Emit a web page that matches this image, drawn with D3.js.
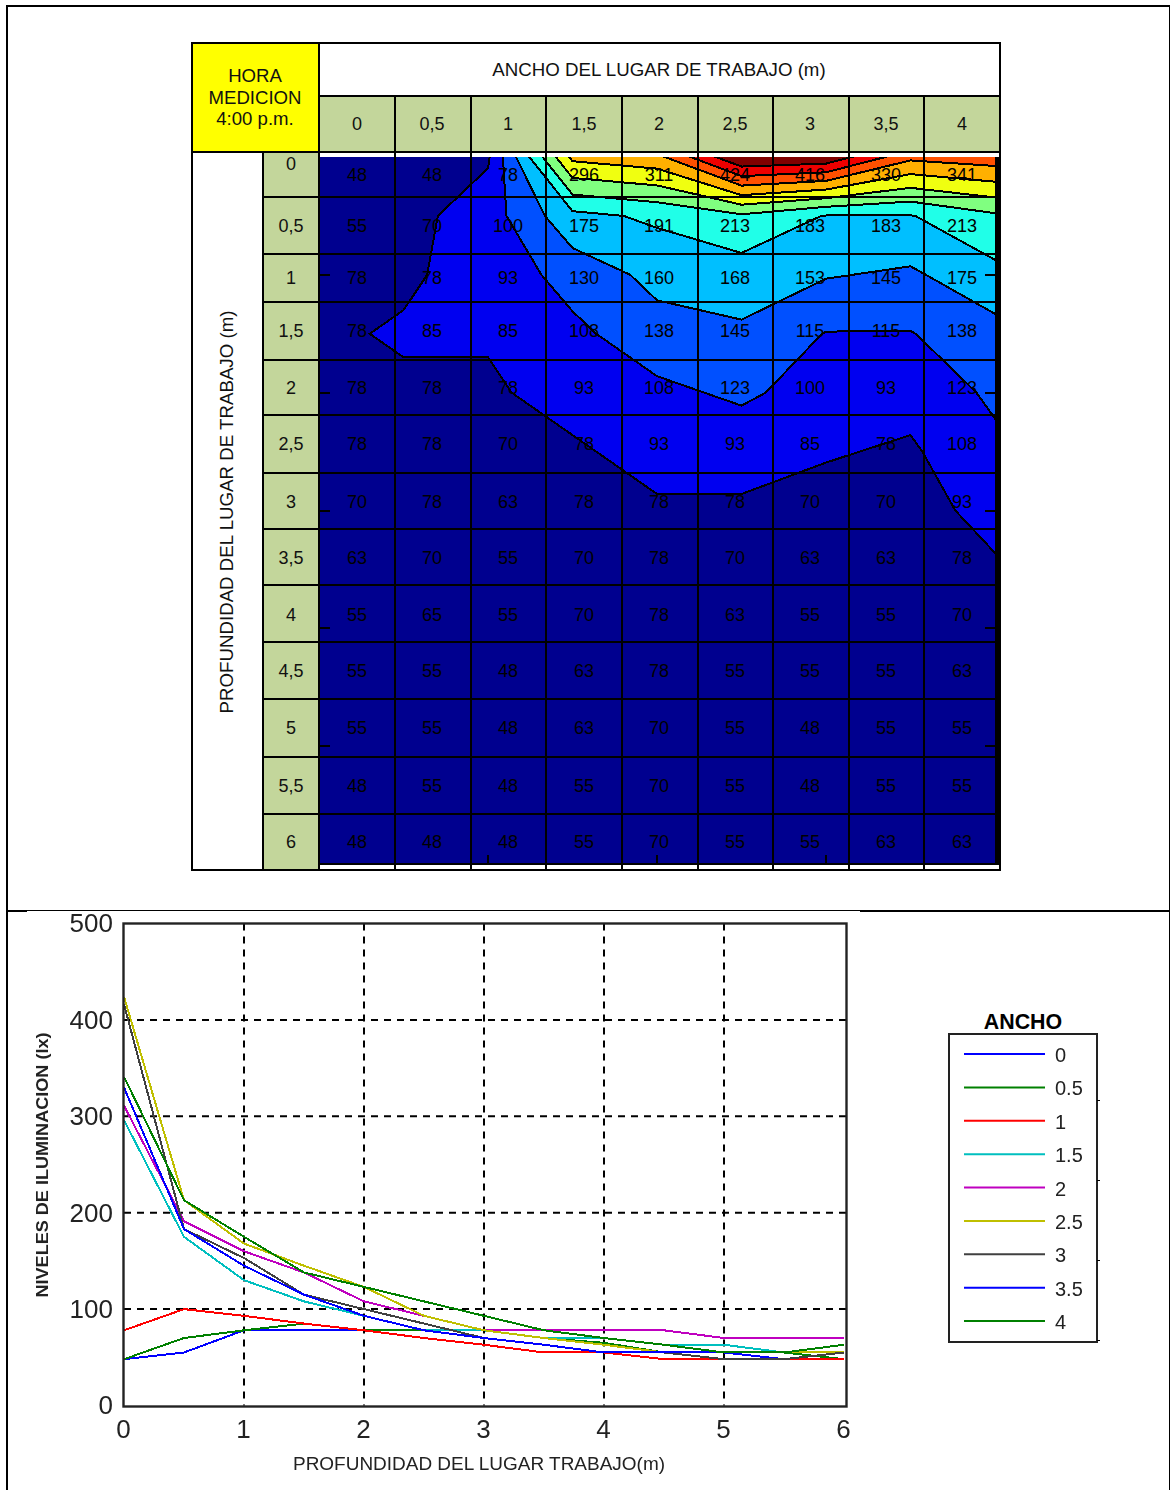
<!DOCTYPE html>
<html><head><meta charset="utf-8">
<script src="https://cdn.jsdelivr.net/npm/d3@7"></script>
<style>html,body{margin:0;padding:0;background:#fff}svg{display:block}text{font-family:"Liberation Sans",Arial,sans-serif}</style>
</head><body><svg id="c" width="1170" height="1490"></svg>
<script>
// ---------- data ----------
const widthLabels = ["0","0,5","1","1,5","2","2,5","3","3,5","4"];
const legendLabels = ["0","0.5","1","1.5","2","2.5","3","3.5","4"];
const depthLabels = ["0","0,5","1","1,5","2","2,5","3","3,5","4","4,5","5","5,5","6"];
const depths = [0,0.5,1,1.5,2,2.5,3,3.5,4,4.5,5,5.5,6];
const w0   = [48,55,78,78,78,78,70,63,55,55,55,48,48];
const w05  = [48,70,78,85,78,78,78,70,65,55,55,55,48];
const w1   = [78,100,93,85,78,70,63,55,55,48,48,48,48];
const w15  = [296,175,130,108,93,78,78,70,70,63,63,55,55];
const w2   = [311,191,160,138,108,93,78,78,78,78,70,70,70];
const w25  = [424,213,168,145,123,93,78,70,63,55,55,55,55];
const w3   = [416,183,153,115,100,85,70,63,55,55,48,48,55];
const w35  = [330,183,145,115,93,78,70,63,55,55,55,55,63];
const w4   = [341,213,175,138,123,108,93,78,70,63,55,55,63];
const seriesList = [w0,w05,w1,w15,w2,w25,w3,w35,w4];
const contourLevels = [47,82.2,116.4,150.5,184.7,218.9,253.1,287.3,321.5,355.6,389.8];
const bandColors = ["#00008f","#0000f0","#0050ff","#00bfff","#20ffe8","#80ff80","#f0ff10","#ffb000","#ff5000","#ee0000","#800000"];
const lineColors = ["#0000ff","#008000","#ff0000","#00bfbf","#bf00bf","#bfbf00","#404040","#0000ff","#008000"];
const colEdges = [319,395,471,546,622,698,773,849,924,1000];
const rowEdges = [152,197,254,302,360,415,473,529,585,642,699,757,814];
const colCenters = [357,432,508,584,659,735,810,886,962];
const rowCenters = [175,226,278,331,388,444,502,558,615,671,728,786,842];
const rowLabelY = [164,226,278,331,388,444,502,558,615,671,728,786,842];
const xTickValues = [0,1,2,3,4,5,6];
const yTickValues = [0,100,200,300,400,500];

const svg = d3.select("#c");
const defs = svg.append("defs");
defs.append("clipPath").attr("id","plotClip").append("rect").attr("x",319).attr("y",157).attr("width",676).attr("height",707);
defs.append("filter").attr("id","soft").attr("x","-5%").attr("y","-5%").attr("width","110%").attr("height","110%")
  .append("feGaussianBlur").attr("stdDeviation",0.7);

// ---------- page frame ----------
const frame = svg.append("g").attr("stroke","#000").attr("shape-rendering","crispEdges");
frame.append("line").attr("x1",6).attr("x2",1170).attr("y1",5.5).attr("y2",5.5).attr("stroke-width",2);
frame.append("line").attr("x1",7).attr("x2",7).attr("y1",5).attr("y2",1490).attr("stroke-width",2);
frame.append("line").attr("x1",1169.5).attr("x2",1169.5).attr("y1",5).attr("y2",1490).attr("stroke-width",1);
frame.append("line").attr("x1",7).attr("x2",27).attr("y1",911).attr("y2",911).attr("stroke-width",2);
frame.append("line").attr("x1",27).attr("x2",860).attr("y1",910.5).attr("y2",910.5).attr("stroke-width",1);
frame.append("line").attr("x1",860).attr("x2",1170).attr("y1",911).attr("y2",911).attr("stroke-width",2);

// ---------- table backgrounds ----------
const T = svg.append("g");
T.append("rect").attr("x",192).attr("y",43).attr("width",808).attr("height",827).attr("fill","#fff");
T.append("rect").attr("x",192).attr("y",43).attr("width",127).attr("height",109).attr("fill","#ffff00");
T.append("rect").attr("x",319).attr("y",96).attr("width",681).attr("height",56).attr("fill","#c3d69b");
T.append("rect").attr("x",263).attr("y",152).attr("width",56).attr("height",718).attr("fill","#c3d69b");

// ---------- contour plot ----------
const gx = d3.scaleLinear().domain([0,8]).range([319,995]);
const gy = d3.scaleLinear().domain([0,12]).range([157,864]);
const flat = [];
depths.forEach((d,j)=>seriesList.forEach(s=>flat.push(s[j])));
const contours = d3.contours().size([widthLabels.length,depths.length]).thresholds(contourLevels)(flat);
const path = d3.geoPath(d3.geoTransform({point(x,y){this.stream.point(gx(x-0.5),gy(y-0.5));}}));
const plot = svg.append("g").attr("clip-path","url(#plotClip)");
plot.selectAll("path").data(contours).join("path")
  .attr("d",path)
  .attr("fill",(d,i)=>bandColors[i])
  .attr("stroke","#000").attr("stroke-width",2)
  .attr("shape-rendering","crispEdges");
// inner MATLAB ticks
const tickG = svg.append("g").attr("stroke","#000").attr("stroke-width",2).attr("shape-rendering","crispEdges");
const iy = d3.scaleLinear().domain([0,6]).range([157,864]);
const ix = d3.scaleLinear().domain([0,4]).range([319,995]);
[1,2,3,4,5].forEach(v=>{
  tickG.append("line").attr("x1",319).attr("x2",330).attr("y1",iy(v)).attr("y2",iy(v));
  tickG.append("line").attr("x1",985).attr("x2",995).attr("y1",iy(v)).attr("y2",iy(v));
});
[1,2,3].forEach(v=>tickG.append("line").attr("x1",ix(v)).attr("x2",ix(v)).attr("y1",855).attr("y2",864));
svg.append("rect").attr("x",995).attr("y",157).attr("width",5).attr("height",707).attr("fill","#000");

// ---------- table lines ----------
const L = svg.append("g").attr("stroke","#000").attr("stroke-width",2).attr("shape-rendering","crispEdges");
colEdges.slice(1,-1).forEach(x=>L.append("line").attr("x1",x).attr("x2",x).attr("y1",96).attr("y2",870));
L.append("line").attr("x1",319).attr("x2",319).attr("y1",43).attr("y2",870);
L.append("line").attr("x1",263).attr("x2",263).attr("y1",152).attr("y2",870);
L.append("line").attr("x1",319).attr("x2",1000).attr("y1",96).attr("y2",96);
L.append("line").attr("x1",192).attr("x2",1000).attr("y1",152).attr("y2",152);
rowEdges.slice(1).forEach(y=>L.append("line").attr("x1",263).attr("x2",1000).attr("y1",y).attr("y2",y));
L.append("line").attr("x1",319).attr("x2",1000).attr("y1",864).attr("y2",864);
L.append("rect").attr("x",192).attr("y",43).attr("width",808).attr("height",827).attr("fill","none");

// ---------- table text ----------
const tx = svg.append("g").attr("fill","#111").attr("text-anchor","middle").attr("font-size",18);
["HORA","MEDICION","4:00 p.m."].forEach((t,i)=>tx.append("text").attr("x",255).attr("y",82+i*21.5).attr("font-size",18.6).text(t));
tx.append("text").attr("x",659).attr("y",76).attr("font-size",18.7).text("ANCHO DEL LUGAR DE TRABAJO (m)");
widthLabels.forEach((t,i)=>tx.append("text").attr("x",colCenters[i]).attr("y",130).text(t));
depthLabels.forEach((t,j)=>tx.append("text").attr("x",291).attr("y",rowLabelY[j]+6).text(t));
tx.append("text").attr("transform","translate(233,512) rotate(-90)").attr("font-size",18.7).text("PROFUNDIDAD DEL LUGAR DE TRABAJO (m)");
seriesList.forEach((s,i)=>s.forEach((v,j)=>{
  tx.append("text").attr("x",colCenters[i]).attr("y",rowCenters[j]+5.5).attr("fill","#000").text(v);
}));

// ---------- line chart ----------
const G = svg.append("g").attr("filter","url(#soft)");
const x = d3.scaleLinear().domain([0,6.02]).range([124,846.4]);
const y = d3.scaleLinear().domain([0,500]).range([1405.5,923.5]);
const grid = G.append("g").attr("stroke","#000").attr("stroke-width",2).attr("stroke-dasharray","7 6");
xTickValues.slice(1,-1).forEach(v=>grid.append("line").attr("x1",x(v)).attr("x2",x(v)).attr("y1",y(500)).attr("y2",y(0)));
yTickValues.slice(1,-1).forEach(v=>grid.append("line").attr("x1",x(0)).attr("x2",x(6.02)).attr("y1",y(v)).attr("y2",y(v)));
const line = d3.line().x((d,i)=>x(depths[i])).y(d=>y(d));
G.append("g").selectAll("path").data(seriesList).join("path")
  .attr("d",line).attr("fill","none").attr("stroke",(d,i)=>lineColors[i]).attr("stroke-width",2).attr("shape-rendering","crispEdges");
G.append("rect").attr("x",123.5).attr("y",923.5).attr("width",723).attr("height",483)
  .attr("fill","none").attr("stroke","#222").attr("stroke-width",2.4);
const ax = G.append("g").attr("transform","translate(-1,1406)").call(d3.axisBottom(x).tickValues(xTickValues).tickFormat(d3.format("d")).tickSize(0).tickPadding(14));
const ay = G.append("g").attr("transform","translate(124,0)").call(d3.axisLeft(y).tickValues(yTickValues).tickSize(0).tickPadding(11));
[ax,ay].forEach(a=>{a.select(".domain").remove();
  a.selectAll("text").attr("font-family",'"Liberation Sans",Arial,sans-serif').attr("font-size",26).attr("fill","#222");});
G.append("text").attr("x",479).attr("y",1470).attr("text-anchor","middle").attr("font-size",18).attr("fill","#222")
  .attr("textLength",372).attr("lengthAdjust","spacingAndGlyphs").text("PROFUNDIDAD DEL LUGAR TRABAJO(m)");
G.append("text").attr("transform","translate(48,1165) rotate(-90)").attr("text-anchor","middle").attr("font-size",17).attr("font-weight","bold").attr("fill","#222")
  .attr("textLength",265).attr("lengthAdjust","spacingAndGlyphs").text("NIVELES DE ILUMINACION (lx)");

// ---------- legend ----------
const legendY = d3.scalePoint().domain(legendLabels).range([1054,1321]);
const lg = svg.append("g");
lg.append("text").attr("x",1023).attr("y",1029).attr("text-anchor","middle").attr("font-size",21.4).attr("font-weight","bold").text("ANCHO");
lg.append("rect").attr("x",949).attr("y",1034).attr("width",148).attr("height",308).attr("fill","#fff").attr("stroke","#222").attr("stroke-width",2).attr("shape-rendering","crispEdges");
[1100,1180,1260,1340].forEach(v=>lg.append("line").attr("x1",1097).attr("x2",1100).attr("y1",v).attr("y2",v).attr("stroke","#000").attr("shape-rendering","crispEdges"));
const lgItems = lg.append("g").attr("filter","url(#soft)");
legendLabels.forEach((t,i)=>{
  lgItems.append("line").attr("x1",964).attr("x2",1045).attr("y1",legendY(t)).attr("y2",legendY(t)).attr("stroke",lineColors[i]).attr("stroke-width",2);
  lgItems.append("text").attr("x",1055).attr("y",legendY(t)+8).attr("font-size",20).attr("fill","#222").text(t);
});
</script></body></html>
